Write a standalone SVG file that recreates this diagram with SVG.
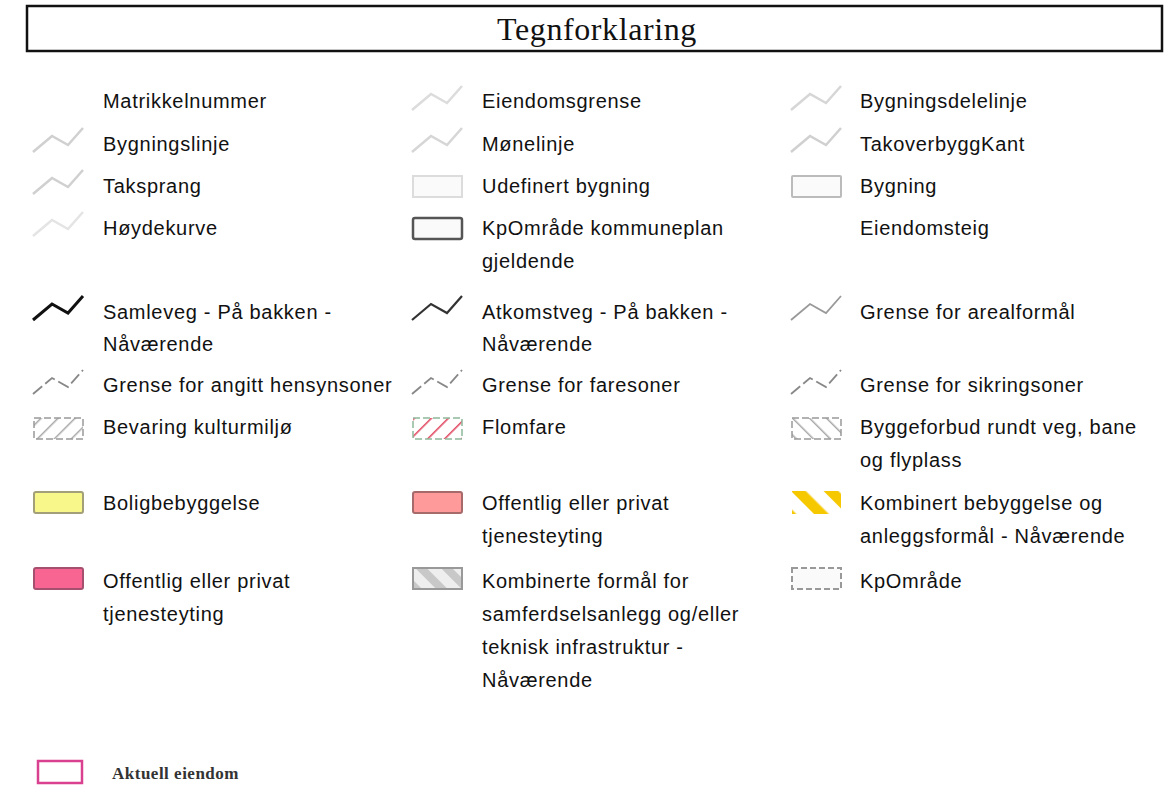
<svg xmlns="http://www.w3.org/2000/svg" width="1168" height="792" viewBox="0 0 1168 792">
<style>
.t{font-family:"Liberation Sans",Arial,sans-serif;font-size:20px;letter-spacing:0.7px;fill:#111}
.h{font-family:"Liberation Serif","Times New Roman",serif;font-size:32px;letter-spacing:0.6px;fill:#111}
.a{font-family:"Liberation Serif","Times New Roman",serif;font-size:17px;font-weight:bold;letter-spacing:0.5px;fill:#333}
.zl{fill:none;stroke-linejoin:miter}
</style>
<defs>
<path id="zz" d="M0,26 L19,10 L35,19 L50,2"/>
<pattern id="hatchR" width="12" height="12" patternUnits="userSpaceOnUse" patternTransform="rotate(45)">
<rect width="12" height="12" fill="#fff"/><line x1="0" y1="0" x2="0" y2="12" stroke="#aaa" stroke-width="3"/></pattern>
<pattern id="hatchF" width="12" height="12" patternUnits="userSpaceOnUse" patternTransform="rotate(45)">
<rect width="12" height="12" fill="#fff"/><line x1="0" y1="0" x2="0" y2="12" stroke="#e0405a" stroke-width="3"/></pattern>
<pattern id="hatchL" width="12" height="12" patternUnits="userSpaceOnUse" patternTransform="rotate(-45)">
<rect width="12" height="12" fill="#fff"/><line x1="0" y1="0" x2="0" y2="12" stroke="#aaa" stroke-width="3"/></pattern>
<pattern id="hatchY" width="23" height="23" patternUnits="userSpaceOnUse" patternTransform="translate(791,491) rotate(-45)">
<rect width="23" height="23" fill="#fff"/><rect x="0" y="0" width="10.5" height="23" fill="#f5c800"/></pattern>
<pattern id="hatchG" width="18" height="18" patternUnits="userSpaceOnUse" patternTransform="rotate(-45)">
<rect width="18" height="18" fill="#eee"/><rect x="0" y="0" width="8" height="18" fill="#c8c8c8"/></pattern>
</defs>

<g id="header">
<rect x="27" y="6" width="1135" height="45" fill="#fff" stroke="#111" stroke-width="2.5"/>
<text class="h" x="597" y="40" text-anchor="middle">Tegnforklaring</text>
</g>

<g id="legend">
<!-- column 1 -->
<g id="matrikkelnummer"><text class="t" x="103" y="108">Matrikkelnummer</text></g>
<g id="bygningslinje"><use href="#zz" x="33" y="126" class="zl" stroke="#d0d0d0" stroke-width="2.5"/><text class="t" x="103" y="151">Bygningslinje</text></g>
<g id="taksprang"><use href="#zz" x="33" y="168" class="zl" stroke="#d0d0d0" stroke-width="2.5"/><text class="t" x="103" y="193">Taksprang</text></g>
<g id="hoydekurve"><use href="#zz" x="33" y="210" class="zl" stroke="#e4e4e4" stroke-width="2.5"/><text class="t" x="103" y="235">Høydekurve</text></g>
<g id="samleveg"><use href="#zz" x="33" y="294" class="zl" stroke="#111" stroke-width="3"/><text class="t" x="103" y="319">Samleveg - På bakken -</text><text class="t" x="103" y="351">Nåværende</text></g>
<g id="angitt"><use href="#zz" x="33" y="368" class="zl" stroke="#888" stroke-width="1.8" stroke-dasharray="12,4"/><text class="t" x="103" y="392">Grense for angitt hensynsoner</text></g>
<g id="bevaring"><rect x="34" y="418" width="49" height="21" fill="url(#hatchR)" stroke="#999" stroke-width="1.5" stroke-dasharray="7,3"/><text class="t" x="103" y="434">Bevaring kulturmiljø</text></g>
<g id="boligbebyggelse"><rect x="34" y="492" width="49" height="21" rx="2" fill="#f7f78a" stroke="#a39f78" stroke-width="2"/><text class="t" x="103" y="510">Boligbebyggelse</text></g>
<g id="tjenesteyting2"><rect x="34" y="568" width="49" height="21" rx="2" fill="#f86592" stroke="#a65070" stroke-width="2"/><text class="t" x="103" y="588">Offentlig eller privat</text><text class="t" x="103" y="621">tjenesteyting</text></g>

<!-- column 2 -->
<g id="eiendomsgrense"><use href="#zz" x="412" y="84" class="zl" stroke="#dcdcdc" stroke-width="2.5"/><text class="t" x="482" y="108">Eiendomsgrense</text></g>
<g id="monelinje"><use href="#zz" x="412" y="126" class="zl" stroke="#d6d6d6" stroke-width="2.5"/><text class="t" x="482" y="151">Mønelinje</text></g>
<g id="udefinert"><rect x="413" y="176" width="49" height="21" fill="#fafafa" stroke="#dcdcdc" stroke-width="2"/><text class="t" x="482" y="193">Udefinert bygning</text></g>
<g id="kpomrade-plan"><rect x="413" y="218" width="49" height="21" rx="2" fill="#fafafa" stroke="#555" stroke-width="2.5"/><text class="t" x="482" y="235">KpOmråde kommuneplan</text><text class="t" x="482" y="268">gjeldende</text></g>
<g id="atkomstveg"><use href="#zz" x="412" y="294" class="zl" stroke="#333" stroke-width="2.2"/><text class="t" x="482" y="319">Atkomstveg - På bakken -</text><text class="t" x="482" y="351">Nåværende</text></g>
<g id="faresoner"><use href="#zz" x="412" y="368" class="zl" stroke="#888" stroke-width="1.8" stroke-dasharray="12,4"/><text class="t" x="482" y="392">Grense for faresoner</text></g>
<g id="flomfare"><rect x="413" y="418" width="49" height="21" fill="url(#hatchF)" stroke="#8fb89a" stroke-width="1.5" stroke-dasharray="7,3"/><text class="t" x="482" y="434">Flomfare</text></g>
<g id="tjenesteyting1"><rect x="413" y="492" width="49" height="21" rx="2" fill="#ff9a9a" stroke="#a66a6a" stroke-width="2"/><text class="t" x="482" y="510">Offentlig eller privat</text><text class="t" x="482" y="543">tjenesteyting</text></g>
<g id="kombinerte"><rect x="413" y="568" width="49" height="21" fill="url(#hatchG)" stroke="#999" stroke-width="2"/><text class="t" x="482" y="588">Kombinerte formål for</text><text class="t" x="482" y="621">samferdselsanlegg og/eller</text><text class="t" x="482" y="654">teknisk infrastruktur -</text><text class="t" x="482" y="687">Nåværende</text></g>

<!-- column 3 -->
<g id="bygningsdelelinje"><use href="#zz" x="791" y="84" class="zl" stroke="#d6d6d6" stroke-width="2.5"/><text class="t" x="860" y="108">Bygningsdelelinje</text></g>
<g id="takoverbygg"><use href="#zz" x="791" y="126" class="zl" stroke="#d0d0d0" stroke-width="2.5"/><text class="t" x="860" y="151">TakoverbyggKant</text></g>
<g id="bygning"><rect x="792" y="176" width="49" height="21" rx="1" fill="#fafafa" stroke="#bbb" stroke-width="2"/><text class="t" x="860" y="193">Bygning</text></g>
<g id="eiendomsteig"><text class="t" x="860" y="235">Eiendomsteig</text></g>
<g id="arealformal"><use href="#zz" x="791" y="294" class="zl" stroke="#999" stroke-width="1.8"/><text class="t" x="860" y="319">Grense for arealformål</text></g>
<g id="sikringsoner"><use href="#zz" x="791" y="368" class="zl" stroke="#888" stroke-width="1.8" stroke-dasharray="12,4"/><text class="t" x="860" y="392">Grense for sikringsoner</text></g>
<g id="byggeforbud"><rect x="792" y="418" width="49" height="21" fill="url(#hatchL)" stroke="#999" stroke-width="1.5" stroke-dasharray="7,3"/><text class="t" x="860" y="434">Byggeforbud rundt veg, bane</text><text class="t" x="860" y="467">og flyplass</text></g>
<g id="kombinert-bebyggelse"><rect x="792" y="491" width="49" height="23" fill="url(#hatchY)"/><text class="t" x="860" y="510">Kombinert bebyggelse og</text><text class="t" x="860" y="543">anleggsformål - Nåværende</text></g>
<g id="kpomrade"><rect x="792" y="568" width="49" height="21" fill="#fafafa" stroke="#999" stroke-width="2" stroke-dasharray="6,3"/><text class="t" x="860" y="588">KpOmråde</text></g>

<!-- bottom -->
<g id="aktuell"><rect x="38" y="761" width="44" height="22" fill="#fff" stroke="#d9408f" stroke-width="2.5"/><text class="a" x="112" y="779">Aktuell eiendom</text></g>
</g>
</svg>
